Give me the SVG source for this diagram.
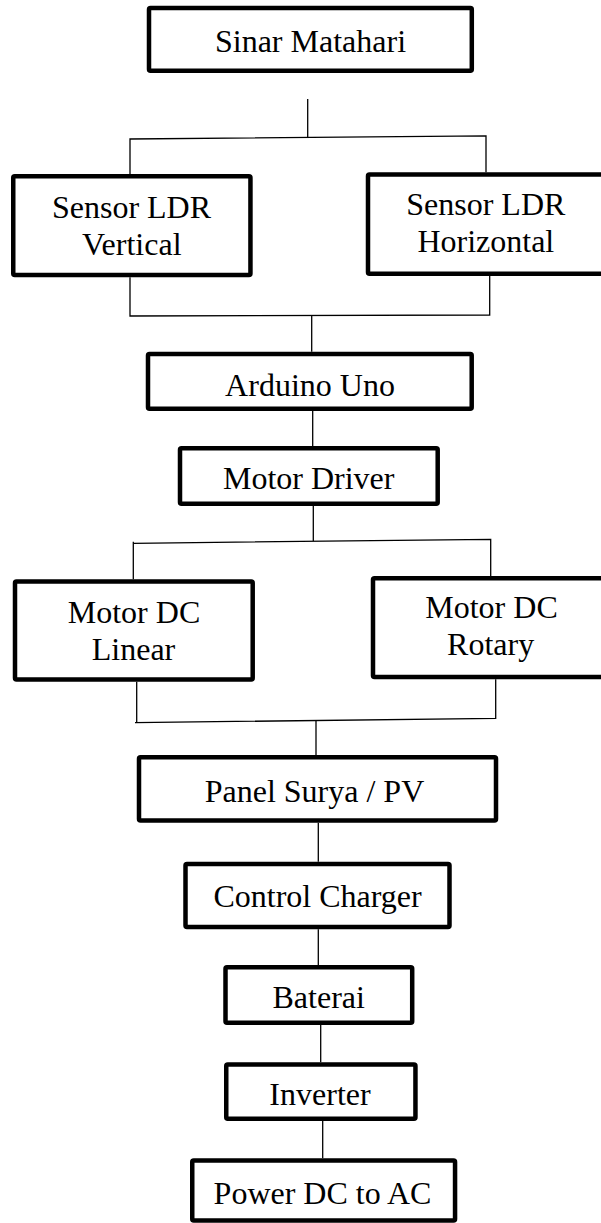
<svg xmlns="http://www.w3.org/2000/svg" width="601" height="1223" viewBox="0 0 601 1223">
<style>
.box{fill:#fff;stroke:#000;stroke-width:4.5;stroke-linejoin:round}
.lbl{font-family:"Liberation Serif","Times New Roman",serif;font-size:32px;fill:#000;text-anchor:middle}
.con{fill:none;stroke:#000;stroke-width:1.3}
</style>
<rect width="601" height="1223" fill="#fff"/>
<g id="connectors">
<line class="con" x1="307.7" y1="99" x2="307.7" y2="137.8"/>
<polyline class="con" points="130,174 130,139 486,135.8 486,172.3"/>
<polyline class="con" points="130,277.3 130,316 489.7,315 489.7,276"/>
<line class="con" x1="311.7" y1="315.5" x2="311.7" y2="351.7"/>
<line class="con" x1="312.7" y1="411" x2="312.7" y2="446"/>
<line class="con" x1="313.3" y1="506" x2="313.3" y2="541"/>
<polyline class="con" points="133.3,579.3 133.3,541.7"/>
<polyline class="con" points="133.3,543.3 490.7,539.3 490.7,576"/>
<polyline class="con" points="136.7,681.7 136.7,722.7"/>
<polyline class="con" points="135,722.7 495.7,718.3 495.7,679.3"/>
<line class="con" x1="316" y1="720.5" x2="316" y2="755"/>
<line class="con" x1="318.3" y1="822.7" x2="318.3" y2="861.7"/>
<line class="con" x1="318.3" y1="929.3" x2="318.3" y2="965"/>
<line class="con" x1="320.7" y1="1025" x2="320.7" y2="1062.3"/>
<line class="con" x1="322.7" y1="1121" x2="322.7" y2="1158.3"/>
</g>
<g id="sinar-matahari">
<rect class="box" x="149" y="8" width="322.8" height="62.8" rx="1.5"/>
<text class="lbl" x="310.5" y="52.3">Sinar Matahari</text>
</g>
<g id="sensor-ldr-vertical">
<rect class="box" x="13.25" y="176.25" width="237.2" height="98.8" rx="1.5"/>
<text class="lbl" x="131.5" y="218">Sensor LDR</text>
<text class="lbl" x="131.8" y="255">Vertical</text>
</g>
<g id="sensor-ldr-horizontal">
<rect class="box" x="368" y="174.5" width="240" height="99.3" rx="1.5"/>
<text class="lbl" x="485.8" y="215">Sensor LDR</text>
<text class="lbl" x="485.8" y="252.3">Horizontal</text>
</g>
<g id="arduino-uno">
<rect class="box" x="148" y="354" width="323.7" height="54.7" rx="1.5"/>
<text class="lbl" x="310" y="395.7">Arduino Uno</text>
</g>
<g id="motor-driver">
<rect class="box" x="180" y="448.25" width="257.7" height="55.5" rx="1.5"/>
<text class="lbl" x="308.7" y="489.3">Motor Driver</text>
</g>
<g id="motor-dc-linear">
<rect class="box" x="15" y="581.5" width="237.7" height="98" rx="1.5"/>
<text class="lbl" x="134" y="623.3">Motor DC</text>
<text class="lbl" x="133.5" y="660">Linear</text>
</g>
<g id="motor-dc-rotary">
<rect class="box" x="373" y="578.25" width="240" height="98.8" rx="1.5"/>
<text class="lbl" x="491.5" y="618.3">Motor DC</text>
<text class="lbl" x="490.6" y="655">Rotary</text>
</g>
<g id="panel-surya">
<rect class="box" x="139" y="757.25" width="357" height="63.2" rx="1.5"/>
<text class="lbl" x="314.5" y="801.7">Panel Surya / PV</text>
</g>
<g id="control-charger">
<rect class="box" x="185.5" y="864" width="264" height="63" rx="1.5"/>
<text class="lbl" x="317.6" y="906.7">Control Charger</text>
</g>
<g id="baterai">
<rect class="box" x="225.5" y="967.25" width="186.7" height="55.5" rx="1.5"/>
<text class="lbl" x="318.7" y="1008.3">Baterai</text>
</g>
<g id="inverter">
<rect class="box" x="226.25" y="1064.5" width="189.2" height="54.2" rx="1.5"/>
<text class="lbl" x="320" y="1105">Inverter</text>
</g>
<g id="power-dc-to-ac">
<rect class="box" x="192.25" y="1160.5" width="262.8" height="60" rx="1.5"/>
<text class="lbl" x="322.5" y="1204">Power DC to AC</text>
</g>
</svg>
